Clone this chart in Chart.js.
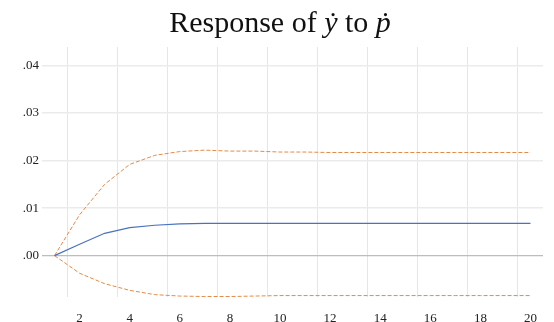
<!DOCTYPE html>
<html>
<head>
<meta charset="utf-8">
<script src="https://cdn.jsdelivr.net/npm/chart.js@4.4.1/dist/chart.umd.min.js"></script>
<style>
  html, body { margin: 0; padding: 0; background: #fff; }
  #wrap { position: relative; width: 554px; height: 322px; }
</style>
</head>
<body>
<div id="wrap"><canvas id="irf"></canvas></div>
<script>
// impulse response of y-dot to p-dot, periods 1..20
const periods = [1, 2, 3, 4, 5, 6, 7, 8, 9, 10, 11, 12, 13, 14, 15, 16, 17, 18, 19, 20];
const response = [0, 0.0024, 0.0047, 0.0059, 0.0064, 0.0067, 0.0068, 0.0068, 0.0068, 0.0068,
                  0.0068, 0.0068, 0.0068, 0.0068, 0.0068, 0.0068, 0.0068, 0.0068, 0.0068, 0.0068];
const upperBand = [0, 0.0086, 0.0150, 0.0192, 0.0211, 0.0219, 0.0222, 0.0220, 0.0220, 0.0218,
                   0.0218, 0.0217, 0.0217, 0.0217, 0.0217, 0.0217, 0.0217, 0.0217, 0.0217, 0.0217];
const lowerBand = [0, -0.0037, -0.0059, -0.0073, -0.0082, -0.0085, -0.0086, -0.0086, -0.0085, -0.0084,
                   -0.0084, -0.0084, -0.0084, -0.0084, -0.0084, -0.0084, -0.0084, -0.0084, -0.0084, -0.0084];
const xTicks = [2, 4, 6, 8, 10, 12, 14, 16, 18, 20];
const xGrid = [1.5, 3.5, 5.5, 7.5, 9.5, 11.5, 13.5, 15.5, 17.5, 19.5];
const yTicks = [0, 0.01, 0.02, 0.03, 0.04];

const serif = '"Liberation Serif", "Times New Roman", "DejaVu Serif", serif';
const toXY = arr => arr.map((v, i) => ({ x: periods[i], y: v }));

// title with italic symbols, drawn on the canvas
const titlePlugin = {
  id: 'mixedTitle',
  afterDraw(chart) {
    const ctx = chart.ctx;
    const parts = [
      ['Response of ', 'normal'],
      ['ẏ', 'italic'],
      [' to ', 'normal'],
      ['ṗ', 'italic'],
    ];
    ctx.save();
    ctx.fillStyle = '#111';
    ctx.textBaseline = 'alphabetic';
    let total = 0;
    const widths = parts.map(([t, s]) => {
      ctx.font = s + ' 30px ' + serif;
      const w = ctx.measureText(t).width;
      total += w;
      return w;
    });
    let x = 280 - total / 2;
    parts.forEach(([t, s], i) => {
      ctx.font = s + ' 30px ' + serif;
      ctx.fillText(t, x, 31.5);
      x += widths[i];
    });
    ctx.restore();
  }
};

const band = (data) => ({
  data: toXY(data),
  borderColor: '#e58a45',
  borderWidth: 1,
  borderDash: [4, 2],
  pointRadius: 0,
  tension: 0,
  fill: false,
});

new Chart(document.getElementById('irf'), {
  type: 'line',
  data: {
    datasets: [
      { data: toXY(response), borderColor: '#4a72be', borderWidth: 1.2, pointRadius: 0, tension: 0, fill: false },
      band(upperBand),
      band(lowerBand),
    ]
  },
  options: {
    responsive: true,
    maintainAspectRatio: false,
    animation: false,
    layout: { padding: { top: 47, right: 11, left: 0, bottom: 0 } },
    plugins: { legend: { display: false }, tooltip: { enabled: false }, title: { display: false } },
    scales: {
      x: {
        type: 'linear',
        min: 0.5,
        max: 20.5,
        afterBuildTicks: s => { s.ticks = xTicks.map(v => ({ value: v })); },
        afterFit: s => { s.height = 25; },
        border: { display: false },
        grid: { display: false },
        ticks: { color: '#222', padding: 6, font: { family: serif, size: 13 } },
      },
      xg: {
        type: 'linear',
        position: 'bottom',
        min: 0.5,
        max: 20.5,
        afterBuildTicks: s => { s.ticks = xGrid.map(v => ({ value: v })); },
        afterFit: s => { s.height = 0; },
        border: { display: false },
        grid: { color: '#e6e6e6', lineWidth: 1, drawTicks: false },
        ticks: { display: false },
      },
      y: {
        min: -0.0087,
        max: 0.0439,
        afterBuildTicks: s => { s.ticks = yTicks.map(v => ({ value: v })); },
        afterFit: s => { s.width = 42; },
        border: { display: false },
        grid: {
          color: c => (c.tick && c.tick.value === 0 ? '#bdbdbd' : '#ebebeb'),
          lineWidth: c => (c.tick && c.tick.value === 0 ? 1.2 : 1.5),
          drawTicks: false,
        },
        ticks: {
          color: '#222',
          padding: 3,
          font: { family: serif, size: 13 },
          callback: v => '.' + Math.round(v * 100).toString().padStart(2, '0'),
        },
      },
    },
  },
  plugins: [titlePlugin],
});
</script>
</body>
</html>
